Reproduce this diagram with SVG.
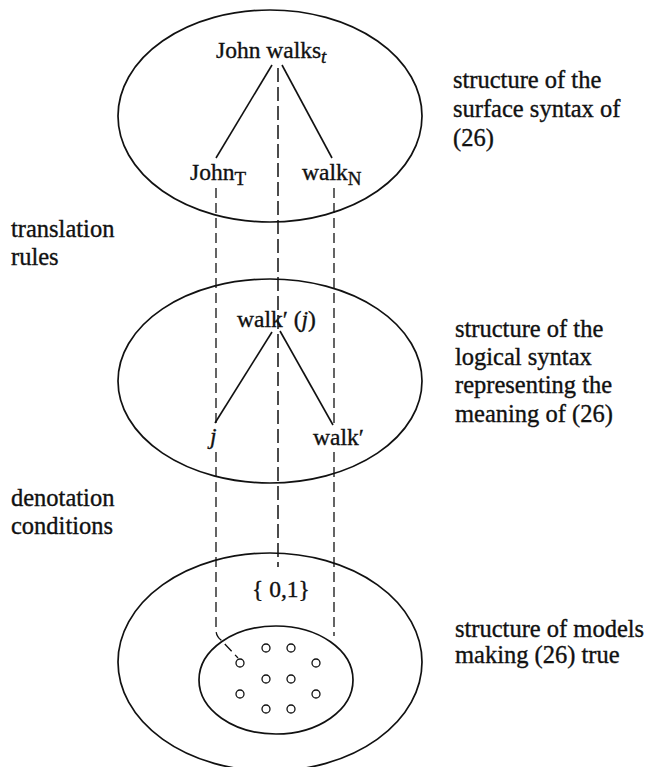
<svg xmlns="http://www.w3.org/2000/svg" width="653" height="767" viewBox="0 0 653 767">
<style>
text { font-family: "Liberation Serif", "Times New Roman", serif; font-size: 24.5px; fill: #111; stroke: #111; stroke-width: 0.35; }
.tree { font-size: 23.5px; }
.sub { font-size: 19px; }
.it { font-style: italic; }
.shape { fill: none; stroke: #111; stroke-width: 1.7; }
.edge { stroke: #111; stroke-width: 1.6; fill: none; }
.dash { stroke: #111; stroke-width: 1.3; fill: none; stroke-dasharray: 10 5; }
.dashc { stroke: #111; stroke-width: 1.5; fill: none; stroke-dasharray: 14 5; }
.dot { fill: #fff; stroke: #111; stroke-width: 1.3; }
</style>
<rect width="653" height="767" fill="#fff"/>

<g id="surface-syntax">
  <ellipse class="shape" cx="270" cy="116" rx="152" ry="106"/>
  <text class="tree" x="216" y="58">John walks<tspan class="sub it" dy="5">t</tspan></text>
  <text class="tree" x="190" y="180">John<tspan class="sub" dy="5">T</tspan></text>
  <text class="tree" x="302" y="180">walk<tspan class="sub" dy="5">N</tspan></text>
</g>

<g id="logical-syntax">
  <ellipse class="shape" cx="270" cy="381" rx="152" ry="102"/>
  <text class="tree" x="237" y="327">walk′ (<tspan class="it">j</tspan>)</text>
  <text class="tree it" x="210" y="444">j</text>
  <text class="tree" x="313" y="445">walk′</text>
</g>

<g id="models">
  <ellipse class="shape" cx="270" cy="662" rx="152" ry="109"/>
  <text class="tree" x="252" y="597">{ 0,1}</text>
  <ellipse class="shape" cx="276" cy="680" rx="77" ry="54"/>
  <circle class="dot" cx="266" cy="648" r="4"/>
  <circle class="dot" cx="291" cy="648" r="4"/>
  <circle class="dot" cx="240" cy="663" r="4"/>
  <circle class="dot" cx="316" cy="663" r="4"/>
  <circle class="dot" cx="266" cy="679" r="4"/>
  <circle class="dot" cx="291" cy="679" r="4"/>
  <circle class="dot" cx="240" cy="694" r="4"/>
  <circle class="dot" cx="316" cy="694" r="4"/>
  <circle class="dot" cx="266" cy="709" r="4"/>
  <circle class="dot" cx="291" cy="709" r="4"/>
</g>

<g id="connectors">
  <line class="edge" x1="272" y1="65" x2="216" y2="158"/>
  <line class="edge" x1="282" y1="65" x2="332" y2="158"/>
  <line class="edge" x1="272" y1="332" x2="215" y2="423"/>
  <line class="edge" x1="280" y1="331" x2="333" y2="425"/>
  <line class="dashc" x1="278" y1="68" x2="278" y2="567"/>
  <path class="dash" d="M216 188 V424"/>
  <path class="dash" d="M216 452 V630 Q216 636 221 640 L238 658"/>
  <path class="dash" d="M334 188 V424"/>
  <path class="dash" d="M334 452 V636"/>
</g>

<g id="label-surface">
  <text x="453" y="88">structure of the</text>
  <text x="453" y="117">surface syntax of</text>
  <text x="453" y="146">(26)</text>
</g>
<g id="label-translation">
  <text x="11" y="237">translation</text>
  <text x="11" y="265">rules</text>
</g>
<g id="label-logical">
  <text x="455" y="337">structure of the</text>
  <text x="455" y="365">logical syntax</text>
  <text x="455" y="393">representing the</text>
  <text x="455" y="422">meaning of (26)</text>
</g>
<g id="label-denotation">
  <text x="11" y="506">denotation</text>
  <text x="11" y="534">conditions</text>
</g>
<g id="label-models">
  <text x="455" y="637">structure of models</text>
  <text x="455" y="663">making (26) true</text>
</g>
</svg>
